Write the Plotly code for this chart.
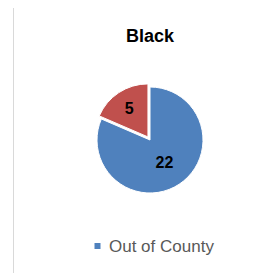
import plotly.graph_objects as go

labels = ["Out of County", "In County"]
values = [22, 5]
colors = ["#4F81BD", "#C0504D"]
pulls = [0, 0.07]
title_text = "Black"

# the page body has an 8px default margin; work in reference pixels, shifted
OFF = 8
W, H = 275 - OFF, 273 - OFF

def px(x):
    return (x - OFF) / W

def py(y):
    return 1 - (y - OFF) / H

cx, cy, r = 150, 140, 53
half = r * (1 + max(pulls))

fig = go.Figure()
fig.add_trace(go.Pie(
    labels=labels,
    values=values,
    sort=False,
    direction="clockwise",
    rotation=0,
    pull=pulls,
    marker=dict(colors=colors, line=dict(color="white", width=1)),
    textinfo="value",
    textposition="inside",
    insidetextorientation="horizontal",
    textfont=dict(family="Liberation Sans", size=16, color="black", weight="bold"),
    showlegend=False,
    hoverinfo="label+value",
    domain=dict(x=[px(cx - half), px(cx + half)], y=[py(cy + half), py(cy - half)]),
))

fig.update_layout(
    width=W, height=H,
    margin=dict(l=0, r=0, t=0, b=0),
    paper_bgcolor="white", plot_bgcolor="white",
    xaxis=dict(visible=False), yaxis=dict(visible=False),
    annotations=[
        dict(text=title_text, x=px(150), y=py(36), xref="paper", yref="paper",
             showarrow=False, xanchor="center", yanchor="middle",
             font=dict(family="Liberation Sans", size=18, color="black", weight="bold")),
        dict(text=labels[0], x=px(107), y=py(246), xref="paper", yref="paper",
             showarrow=False, xanchor="left", yanchor="middle",
             font=dict(family="Liberation Sans", size=17, color="#595959")),
    ],
    shapes=[
        dict(type="rect", xref="paper", yref="paper", x0=px(94.5), x1=px(100.5), y0=py(249), y1=py(243),
             fillcolor=colors[0], line=dict(width=0)),
        dict(type="line", xref="paper", yref="paper", x0=px(13.5), x1=px(13.5), y0=py(5), y1=py(280),
             line=dict(color="#D9D9D9", width=1)),
        dict(type="line", xref="paper", yref="paper", x0=px(13), x1=px(280), y0=py(5.5), y1=py(5.5),
             line=dict(color="#D9D9D9", width=1)),
    ],
)

fig.write_html("out.html")
